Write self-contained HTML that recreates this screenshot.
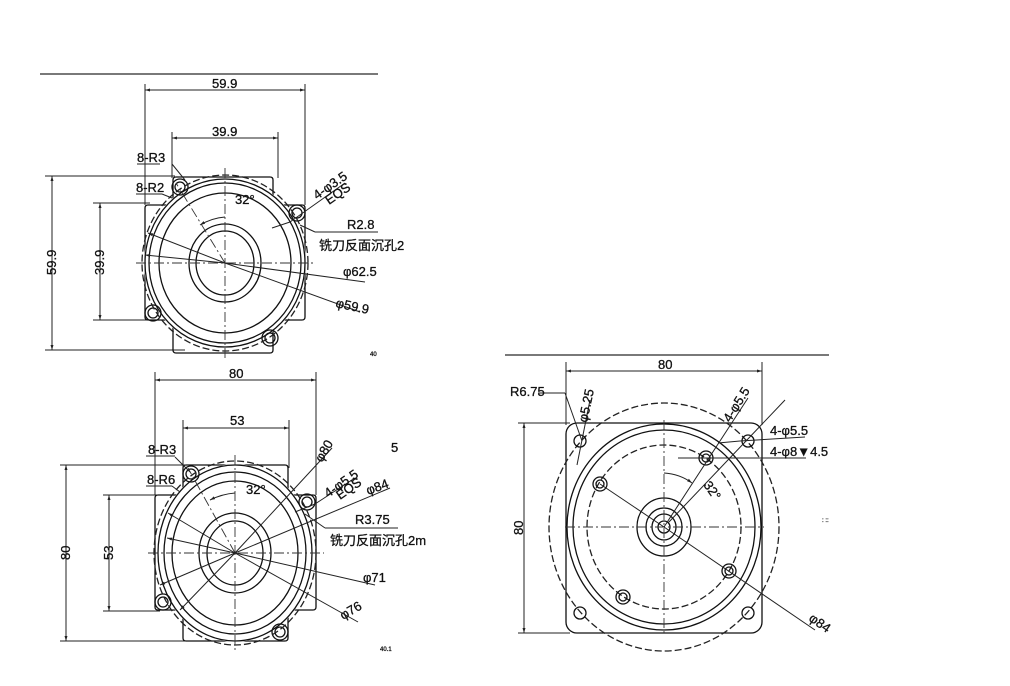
<!DOCTYPE html>
<html><head><meta charset="utf-8"><style>
html,body{margin:0;padding:0;background:#fff}
svg{display:block}
text{font-family:"Liberation Sans Narrow","Liberation Sans","Noto Sans CJK SC",sans-serif;font-size:13px;fill:#111;stroke:#111;stroke-width:0.3}
.l{stroke:#111;stroke-width:1.3;fill:none}
.t{stroke:#222;stroke-width:1;fill:none}
.d{stroke:#222;stroke-width:1.3;fill:none;stroke-dasharray:7 3}
.c{stroke:#333;stroke-width:0.9;fill:none;stroke-dasharray:10 3 2 3}
</style></head><body>
<svg width="1010" height="686" viewBox="0 0 1010 686" xmlns="http://www.w3.org/2000/svg">
<defs>
<marker id="a" viewBox="0 0 10 10" refX="10" refY="5" markerWidth="7" markerHeight="5" orient="auto-start-reverse"><path d="M0,2 L10,5 L0,8z" fill="#222"/></marker>
</defs>

<!-- ============ DRAWING 1 ============ -->
<line x1="40" y1="74" x2="378" y2="74" stroke="#666" stroke-width="1.8"/>
<line class="t" x1="145" y1="84" x2="145" y2="205"/>
<line class="t" x1="305" y1="84" x2="305" y2="205"/>
<line class="t" x1="145" y1="90" x2="305" y2="90" marker-start="url(#a)" marker-end="url(#a)"/>
<text x="212" y="88">59.9</text>
<line class="t" x1="172" y1="132" x2="172" y2="178"/>
<line class="t" x1="278" y1="132" x2="278" y2="178"/>
<line class="t" x1="172" y1="138" x2="278" y2="138" marker-start="url(#a)" marker-end="url(#a)"/>
<text x="212" y="136">39.9</text>
<line class="t" x1="45" y1="176" x2="175" y2="176"/>
<line class="t" x1="45" y1="350" x2="185" y2="350"/>
<line class="t" x1="52" y1="176" x2="52" y2="350" marker-start="url(#a)" marker-end="url(#a)"/>
<text transform="translate(56,275) rotate(-90)">59.9</text>
<line class="t" x1="93" y1="203" x2="150" y2="203"/>
<line class="t" x1="93" y1="320" x2="150" y2="320"/>
<line class="t" x1="100" y1="203" x2="100" y2="320" marker-start="url(#a)" marker-end="url(#a)"/>
<text transform="translate(104,275) rotate(-90)">39.9</text>
<path class="l" d="M173,205 V180 Q173,177 176,177 H270 Q273,177 273,180 V205 H302 Q305,205 305,208 V317 Q305,320 302,320 H273 V350 Q273,353 270,353 H176 Q173,353 173,350 V320 H148 Q145,320 145,317 V208 Q145,205 148,205 Z"/>
<ellipse cx="225" cy="263" rx="81" ry="85" fill="#fff"/>
<g class="l"><circle cx="180" cy="187" r="5"/><circle cx="180" cy="187" r="8"/>
<circle cx="297" cy="213" r="5"/><circle cx="297" cy="213" r="8"/>
<circle cx="153" cy="313" r="5"/><circle cx="153" cy="313" r="8"/>
<circle cx="270" cy="338" r="5"/><circle cx="270" cy="338" r="8"/></g>
<ellipse class="d" cx="225" cy="263" rx="83" ry="88"/>
<ellipse class="l" cx="225" cy="263" rx="80" ry="84"/>
<ellipse class="l" cx="225" cy="263" rx="76" ry="80"/>
<ellipse class="l" cx="225" cy="263" rx="66" ry="70"/>
<ellipse class="l" cx="225" cy="263" rx="36" ry="39"/>
<ellipse class="l" cx="225" cy="263" rx="29" ry="32"/>
<line class="c" x1="136" y1="263" x2="314" y2="263"/>
<line class="c" x1="225" y1="168" x2="225" y2="358"/>
<line class="c" x1="225" y1="263" x2="176" y2="183"/>
<path class="t" d="M200,225 Q212,218 225,217" marker-start="url(#a)"/>
<text x="235" y="204">32°</text>
<line class="t" x1="225" y1="263" x2="148" y2="233" marker-end="url(#a)"/>
<line class="t" x1="225" y1="263" x2="145" y2="255" marker-end="url(#a)"/>
<line class="t" x1="225" y1="263" x2="365" y2="282"/>
<line class="t" x1="225" y1="263" x2="360" y2="312"/>
<line class="t" x1="272" y1="228" x2="290" y2="222"/>
<line class="t" x1="290" y1="222" x2="345" y2="183"/>
<line class="t" x1="300" y1="225" x2="315" y2="232"/>
<line class="t" x1="315" y1="232" x2="378" y2="232"/>
<line class="t" x1="172" y1="164" x2="185" y2="180"/>
<line class="t" x1="137" y1="164" x2="160" y2="164"/>
<line class="t" x1="136" y1="194" x2="162" y2="194"/>
<line class="t" x1="162" y1="194" x2="172" y2="198"/>
<text x="137" y="162">8-R3</text>
<text x="136" y="192">8-R2</text>
<text transform="translate(317,200) rotate(-35)">4-φ3.5</text>
<text transform="translate(329,205) rotate(-35)">EQS</text>
<text x="347" y="229">R2.8</text>
<text x="319" y="250">铣刀反面沉孔2</text>
<text x="343" y="276">φ62.5</text>
<text transform="translate(335,307) rotate(12)">φ59.9</text>
<text x="370" y="356" style="font-size:6px">40</text>

<!-- ============ DRAWING 2 ============ -->
<line class="t" x1="155" y1="372" x2="155" y2="495"/>
<line class="t" x1="316" y1="372" x2="316" y2="495"/>
<line class="t" x1="155" y1="380" x2="316" y2="380" marker-start="url(#a)" marker-end="url(#a)"/>
<text x="229" y="378">80</text>
<line class="t" x1="183" y1="420" x2="183" y2="468"/>
<line class="t" x1="289" y1="420" x2="289" y2="468"/>
<line class="t" x1="183" y1="428" x2="289" y2="428" marker-start="url(#a)" marker-end="url(#a)"/>
<text x="230" y="425">53</text>
<line class="t" x1="60" y1="465" x2="185" y2="465"/>
<line class="t" x1="60" y1="641" x2="190" y2="641"/>
<line class="t" x1="66" y1="465" x2="66" y2="641" marker-start="url(#a)" marker-end="url(#a)"/>
<text transform="translate(70,560) rotate(-90)">80</text>
<line class="t" x1="103" y1="495" x2="160" y2="495"/>
<line class="t" x1="103" y1="611" x2="160" y2="611"/>
<line class="t" x1="109" y1="495" x2="109" y2="611" marker-start="url(#a)" marker-end="url(#a)"/>
<text transform="translate(113,560) rotate(-90)">53</text>
<path class="l" d="M183,495 V468 Q183,465 186,465 H285 Q288,465 288,468 V495 H313 Q316,495 316,498 V607 Q316,610 313,610 H288 V638 Q288,641 285,641 H186 Q183,641 183,638 V610 H158 Q155,610 155,607 V498 Q155,495 158,495 Z"/>
<ellipse cx="235" cy="553" rx="78" ry="89" fill="#fff"/>
<g class="l"><circle cx="191" cy="474" r="5"/><circle cx="191" cy="474" r="8"/>
<circle cx="307" cy="502" r="5"/><circle cx="307" cy="502" r="8"/>
<circle cx="163" cy="602" r="5"/><circle cx="163" cy="602" r="8"/>
<circle cx="280" cy="632" r="5"/><circle cx="280" cy="632" r="8"/></g>
<ellipse class="d" cx="235" cy="553" rx="81" ry="92"/>
<ellipse class="l" cx="235" cy="553" rx="77" ry="88"/>
<ellipse class="l" cx="235" cy="553" rx="71" ry="81"/>
<ellipse class="l" cx="235" cy="553" rx="63" ry="72"/>
<ellipse class="l" cx="235" cy="553" rx="36" ry="40"/>
<ellipse class="l" cx="235" cy="553" rx="28" ry="32"/>
<line class="c" x1="148" y1="553" x2="324" y2="553"/>
<line class="c" x1="235" y1="455" x2="235" y2="650"/>
<line class="c" x1="235" y1="553" x2="188" y2="468"/>
<path class="t" d="M210,500 Q222,494 235,493" marker-start="url(#a)"/>
<text x="246" y="494">32°</text>
<line class="t" x1="235" y1="553" x2="168" y2="513" marker-end="url(#a)"/>
<line class="t" x1="235" y1="553" x2="167" y2="538" marker-end="url(#a)"/>
<line class="t" x1="235" y1="553" x2="160" y2="585" marker-end="url(#a)"/>
<line class="t" x1="235" y1="553" x2="180" y2="610" marker-end="url(#a)"/>
<line class="t" x1="235" y1="553" x2="332" y2="448"/>
<line class="t" x1="235" y1="553" x2="390" y2="488"/>
<line class="t" x1="235" y1="553" x2="375" y2="585"/>
<line class="t" x1="235" y1="553" x2="358" y2="622"/>
<line class="t" x1="295" y1="512" x2="315" y2="504"/>
<line class="t" x1="315" y1="504" x2="355" y2="478"/>
<line class="t" x1="305" y1="514" x2="325" y2="528"/>
<line class="t" x1="325" y1="528" x2="398" y2="528"/>
<line class="t" x1="175" y1="457" x2="190" y2="472"/>
<line class="t" x1="146" y1="456" x2="175" y2="456"/>
<line class="t" x1="146" y1="486" x2="172" y2="486"/>
<line class="t" x1="172" y1="486" x2="180" y2="492"/>
<text x="148" y="454">8-R3</text>
<text x="147" y="484">8-R6</text>
<text transform="translate(322,463) rotate(-60)">φ80</text>
<text transform="translate(328,498) rotate(-35)">4-φ5.5</text>
<text transform="translate(340,500) rotate(-35)">EQS</text>
<text transform="translate(368,495) rotate(-20)">φ84</text>
<text x="355" y="524">R3.75</text>
<text x="330" y="545">铣刀反面沉孔2m</text>
<text x="363" y="582">φ71</text>
<text transform="translate(343,620) rotate(-30)">φ76</text>
<text x="391" y="452">5</text>
<text x="380" y="651" style="font-size:6px">40.1</text>

<!-- ============ DRAWING 3 ============ -->
<line x1="505" y1="355" x2="829" y2="355" stroke="#666" stroke-width="1.8"/>
<line class="t" x1="566" y1="362" x2="566" y2="425"/>
<line class="t" x1="762" y1="362" x2="762" y2="425"/>
<line class="t" x1="566" y1="371" x2="762" y2="371" marker-start="url(#a)" marker-end="url(#a)"/>
<text x="658" y="369">80</text>
<line class="t" x1="518" y1="423" x2="570" y2="423"/>
<line class="t" x1="518" y1="633" x2="570" y2="633"/>
<line class="t" x1="524" y1="423" x2="524" y2="633" marker-start="url(#a)" marker-end="url(#a)"/>
<text transform="translate(523,535) rotate(-90)">80</text>
<rect class="l" x="566" y="423" width="196" height="210" rx="11"/>
<ellipse class="d" cx="664" cy="527" rx="115" ry="124"/>
<ellipse class="l" cx="664" cy="527" rx="97" ry="103"/>
<ellipse class="l" cx="664" cy="527" rx="91" ry="97"/>
<ellipse class="d" cx="664" cy="527" rx="77" ry="82"/>
<ellipse class="l" cx="664" cy="527" rx="27" ry="29"/>
<ellipse class="l" cx="664" cy="527" rx="18" ry="19"/>
<ellipse class="l" cx="664" cy="527" rx="12" ry="13"/>
<ellipse class="l" cx="664" cy="527" rx="6" ry="6"/>
<line class="c" x1="565" y1="527" x2="764" y2="527"/>
<line class="c" x1="664" y1="420" x2="664" y2="635"/>
<g class="l">
<circle cx="580" cy="441" r="6"/><circle cx="748" cy="441" r="6"/>
<circle cx="580" cy="613" r="6"/><circle cx="748" cy="613" r="6"/>
<circle cx="600" cy="484" r="7"/><circle cx="600" cy="484" r="4"/>
<circle cx="706" cy="458" r="7"/><circle cx="706" cy="458" r="4"/>
<circle cx="729" cy="571" r="7"/><circle cx="729" cy="571" r="4"/>
<circle cx="623" cy="597" r="7"/><circle cx="623" cy="597" r="4"/>
</g>
<line class="t" x1="664" y1="527" x2="600" y2="484"/>
<line class="t" x1="664" y1="527" x2="815" y2="630"/>
<line class="t" x1="664" y1="527" x2="748" y2="398"/>
<line class="t" x1="668" y1="523" x2="785" y2="400"/>
<path class="t" d="M664,473 Q680,474 692,483" marker-end="url(#a)"/>
<text transform="translate(703,485) rotate(55)">32°</text>
<line class="t" x1="538" y1="393" x2="565" y2="393"/>
<line class="t" x1="565" y1="393" x2="582" y2="441"/>
<line class="t" x1="590" y1="400" x2="577" y2="465"/>
<line class="t" x1="718" y1="443" x2="740" y2="441"/>
<line class="t" x1="740" y1="441" x2="805" y2="437"/>
<line class="t" x1="678" y1="458" x2="806" y2="458"/>
<text x="510" y="396">R6.75</text>
<text transform="translate(587,423) rotate(-78)">φ5.25</text>
<text transform="translate(730,423) rotate(-58)">4-φ5.5</text>
<text x="770" y="435">4-φ5.5</text>
<text x="770" y="456">4-φ8▼4.5</text>
<text transform="translate(808,620) rotate(35)">φ84</text>
<text x="822" y="522" style="font-size:6px">: ::</text>
</svg>
</body></html>
